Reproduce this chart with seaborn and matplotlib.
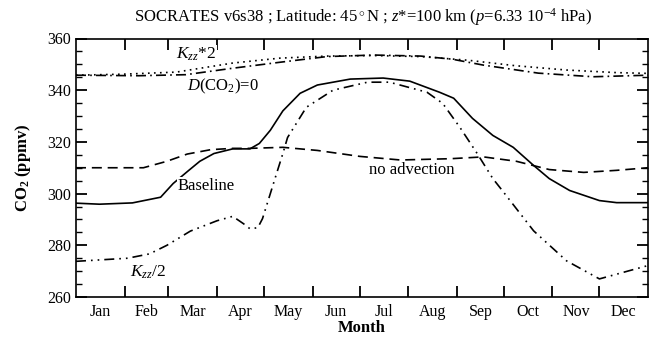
import numpy as np
import pandas as pd
import matplotlib
matplotlib.use("Agg")
import matplotlib.pyplot as plt
import seaborn as sns

# ---- data (day of year, CO2 ppmv) ----
baseline_day = [0, 15, 36, 54, 62, 71, 79, 88, 100, 111, 117, 124, 132, 143, 154, 175, 196, 213,
                232, 241, 253, 266, 279, 292, 302, 315, 334, 345, 365]
baseline_val = [296.3, 295.9, 296.4, 298.6, 303.9, 308.5, 312.5, 315.5, 317.3, 317.3, 319.4, 324.5,
                332.0, 338.8, 342.0, 344.3, 344.7, 343.5, 339.2, 336.9, 329.1, 322.5, 317.9, 310.9,
                305.8, 301.2, 297.3, 296.5, 296.5]

noadv_day = [0, 43, 58, 71, 86, 100, 111, 132, 154, 181, 207, 239, 260, 281, 302, 324, 345, 365]
noadv_val = [310.0, 310.0, 312.5, 315.3, 317.0, 317.5, 317.5, 317.9, 316.7, 314.4, 313.0, 313.5,
             314.2, 312.5, 309.3, 308.2, 309.0, 310.0]

kzz2_day = [0, 30, 64, 100, 130, 160, 190, 220, 250, 280, 313, 345, 365]
kzz2_val = [345.8, 346.2, 347.0, 350.5, 352.4, 353.2, 353.4, 353.0, 351.6, 349.5, 347.8, 346.8, 346.5]

dco2_day = [0, 40, 70, 100, 130, 160, 190, 220, 240, 260, 295, 330, 365]
dco2_val = [345.8, 345.6, 346.0, 348.5, 350.8, 353.0, 353.6, 353.2, 352.0, 349.7, 346.6, 345.2, 345.8]

kzzhalf_day = [0, 33, 47, 58, 73, 90, 100, 107, 111, 116, 119, 124, 128, 132, 135, 147, 164, 186,
               200, 224, 234, 245, 256, 266, 272, 292, 313, 334, 364]
kzzhalf_val = [273.8, 275.0, 276.7, 280.0, 285.5, 289.5, 291.2, 288.3, 286.4, 286.8, 290.3, 300.0,
               307.8, 315.5, 321.7, 333.4, 340.0, 343.1, 343.1, 339.2, 334.9, 325.6, 315.5, 305.8,
               301.2, 285.6, 274.0, 267.0, 272.0]

month_names = ["Jan", "Feb", "Mar", "Apr", "May", "Jun", "Jul", "Aug", "Sep", "Oct", "Nov", "Dec"]
month_len = [31, 28, 31, 30, 31, 30, 31, 31, 30, 31, 30, 31]

series = {
    "Baseline": (baseline_day, baseline_val),
    "no advection": (noadv_day, noadv_val),
    "Kzz*2": (kzz2_day, kzz2_val),
    "D(CO2)=0": (dco2_day, dco2_val),
    "Kzz/2": (kzzhalf_day, kzzhalf_val),
}
frames = []
for name, (d, v) in series.items():
    frames.append(pd.DataFrame({"day": d, "co2": v, "run": name}))
df = pd.concat(frames, ignore_index=True)

sns.set_style("ticks")
plt.rcParams["font.family"] = ["Liberation Serif", "DejaVu Serif"]
plt.rcParams["mathtext.fontset"] = "custom"
plt.rcParams["mathtext.rm"] = "Liberation Serif"
plt.rcParams["mathtext.it"] = "Liberation Serif:italic"
plt.rcParams["mathtext.bf"] = "Liberation Serif:bold"
for k in ["text.color", "axes.labelcolor", "xtick.color", "ytick.color", "axes.edgecolor"]:
    plt.rcParams[k] = "black"

fig = plt.figure(figsize=(6.55, 3.43), dpi=100)
ax = fig.add_axes([76 / 655, 1 - 297 / 343, (648 - 76) / 655, (297 - 38.5) / 343])

dash_map = {
    "Baseline": "",
    "no advection": (6, 3.5),
    "Kzz*2": (1, 2.6),
    "D(CO2)=0": (6, 2.5, 1, 2.5),
    "Kzz/2": (6, 3, 1, 3, 1, 3),
}
sns.lineplot(data=df, x="day", y="co2", style="run", dashes=dash_map, color="black",
             linewidth=1.2, legend=False, sort=True, estimator=None, ax=ax)

ax.set_xlim(0, 365)
ax.set_ylim(260, 360)

bounds = np.cumsum([0] + month_len)
mids = [(bounds[i] + bounds[i + 1]) / 2 for i in range(12)]
ax.set_xticks(bounds[1:-1])
ax.set_xticklabels([])
ax.set_xticks(mids, minor=True)
ax.set_xticklabels(month_names, minor=True, fontsize=11.5)
ax.tick_params(axis="x", which="major", direction="in", length=8, width=1.3, top=True, bottom=True)
ax.tick_params(axis="x", which="minor", length=0, pad=5)

ax.set_yticks(np.arange(260, 361, 20))
ax.set_yticks(np.arange(260, 361, 5), minor=True)
ax.tick_params(axis="y", which="major", direction="in", length=8, width=1.3, left=True, right=True,
               labelsize=11.5)
ax.tick_params(axis="y", which="minor", direction="in", length=4, width=1.0, left=True, right=True)

for s in ax.spines.values():
    s.set_linewidth(1.2)
    s.set_visible(True)
    s.set_color("black")

ax.set_xlabel("Month", fontsize=12, fontweight="bold", labelpad=0)
ax.set_ylabel(r"CO$_\mathbf{2}$ (ppmv)", fontsize=12, fontweight="bold", labelpad=10)

bb = dict(facecolor="white", edgecolor="none", pad=0.5)
ax.text(64, 354, r"$K_{zz}$*2", fontsize=12.5, ha="left", va="center", bbox=bb)
ax.text(94, 341.6, r"$D$(CO$_2$)=0", fontsize=12, ha="center", va="center", bbox=bb)
ax.text(83, 303, "Baseline", fontsize=12, ha="center", va="center", bbox=bb)
ax.text(214, 309, "no advection", fontsize=12, ha="center", va="center", bbox=bb)
ax.text(46, 269.5, r"$K_{zz}$/2", fontsize=12.5, ha="center", va="center", bbox=bb)

fig.text(363 / 655, 1 - 17 / 343,
         r"SOCRATES v6s38 ; Latitude: 45$^\circ$N ; $z$*=100 km ($p$=6.33 10$^{-4}$ hPa)",
         ha="center", va="center", fontsize=12)

fig.savefig("out.png", dpi=100)
